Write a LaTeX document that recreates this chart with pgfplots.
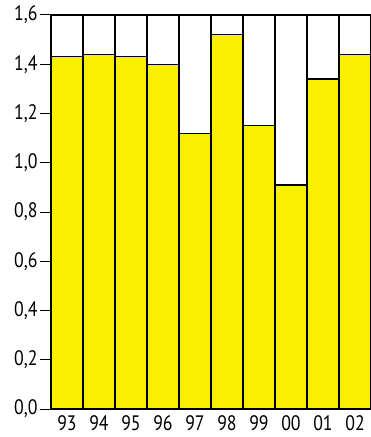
\documentclass[border=0pt]{standalone}
\usepackage{pgfplots}
\pgfplotsset{compat=1.18}
\usepackage{fontspec}
\setmainfont{PT Sans}[FakeStretch=0.85]
\definecolor{barY}{RGB}{248,240,0}
\begin{document}
\begin{tikzpicture}
\begin{axis}[
  name=ax,
  scale only axis,
  width=320bp, height=394bp,
  xmin=-0.5, xmax=9.5, ymin=0, ymax=1.6,
  axis on top,
  axis line style={black, line width=1.2pt},
  xtick=data,
  xticklabels={93,94,95,96,97,98,99,00,01,02},
  xtick style={draw=none},
  ytick={0,0.2,...,1.6},
  ytick pos=left,
  ytick style={draw=black, line width=1pt},
  tick align=outside,
  major tick length=11bp,
  ticklabel style={font=\fontsize{21}{25}\selectfont},
  xticklabel style={yshift=8bp},
  yticklabel style={xshift=1bp, /pgf/number format/.cd, use comma, fixed, fixed zerofill, precision=1, assume math mode=true},
  ybar, bar width=1, bar shift=0pt,
  after end axis/.code={
    \foreach \v in {0,0.2,0.4,0.6,0.8,1.0,1.2,1.4,1.6}
      \draw[black, line width=1pt] (axis cs:-0.5,\v) -- ++(-11bp,0);
  },
]
\addplot[fill=white, draw=black, line width=1.2pt] coordinates {
 (0,1.6) (1,1.6) (2,1.6) (3,1.6) (4,1.6) (5,1.6) (6,1.6) (7,1.6) (8,1.6) (9,1.6)};
\addplot[fill=barY, draw=black, line width=1.2pt] coordinates {
 (0,1.43) (1,1.44) (2,1.43) (3,1.40) (4,1.12) (5,1.52) (6,1.15) (7,0.91) (8,1.34) (9,1.44)};
\end{axis}
\pgfresetboundingbox
\path[use as bounding box] ([shift={(-51bp,-28bp)}]ax.south west) rectangle ([shift={(0bp,15bp)}]ax.north east);
\end{tikzpicture}
\end{document}
